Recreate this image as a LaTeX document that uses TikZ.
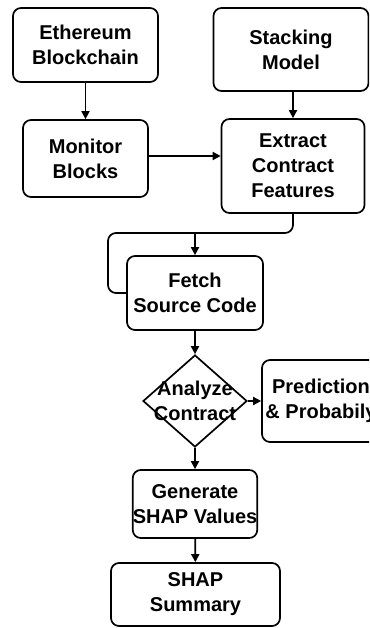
\documentclass[tikz,border=0pt]{standalone}
\usepackage{fontspec}
\setmainfont{Liberation Sans}
\usetikzlibrary{shapes.geometric,arrows.meta}

\begin{document}
\begin{tikzpicture}[x=1pt, y=-1pt]
    \tikzstyle{every node} = [font=\bfseries\fontsize{20}{25}\selectfont, align=center]
    \tikzstyle{stepbox} = [draw, line width=1.7pt, rounded corners=8pt, inner sep=0pt]
    \tikzstyle{decision} = [draw, line width=1.7pt, diamond, inner sep=0pt]
    \tikzstyle{flow} = [line width=1.7pt, -{Triangle[length=8pt, width=8pt]}]
    \tikzstyle{plain} = [line width=1.7pt, rounded corners=8pt]

    \useasboundingbox (0,0) rectangle (369,628);
    \clip (0,0) rectangle (369,628);

    \node[stepbox, minimum width=145pt, minimum height=74pt] (eth) at (85.5, 45) {Ethereum\\Blockchain};
    \node[stepbox, minimum width=155pt, minimum height=83pt] (stack) at (291, 49.5) {Stacking\\Model};
    \node[stepbox, minimum width=125pt, minimum height=77pt] (mon) at (85.5, 158.5) {Monitor\\Blocks};
    \node[stepbox, minimum width=143pt, minimum height=94pt] (ext) at (293, 166) {Extract\\Contract\\Features};
    \node[stepbox, minimum width=136pt, minimum height=74pt] (fetch) at (195, 293) {Fetch\\Source Code};
    \node[decision, minimum width=104pt, minimum height=92pt] (ana) at (195, 401) {};
    \node (analbl) at (ana.center) {Analyze\\Contract};
    \node[stepbox, minimum width=118pt, minimum height=82pt] (pred) at (321, 401) {Prediction\\\& Probabily};
    \node[stepbox, minimum width=124pt, minimum height=68pt] (gen) at (195, 504) {Generate\\SHAP Values};
    \node[stepbox, minimum width=169pt, minimum height=63pt] (sum) at (195.5, 594.5) {SHAP\\Summary};

    \coordinate (split) at (195, 233);
    \coordinate (loop) at (108, 233);

    \draw[flow] (eth) -- (mon);
    \draw[flow] (stack.south -| ext) -- (ext);
    \draw[flow] ([yshift=2.5pt]mon.east) -- ([yshift=2.5pt]mon.east -| ext.west);
    \draw[plain] (ext.south) -- (ext.south |- split) -- (loop) -- (loop |- fetch) -- (fetch.west);
    \draw[flow] (split) -- (fetch);
    \draw[flow] (fetch) -- (ana);
    \draw[flow] (ana) -- (pred);
    \draw[flow] (ana) -- (gen);
    \draw[flow] (gen) -- (sum);
\end{tikzpicture}
\end{document}
